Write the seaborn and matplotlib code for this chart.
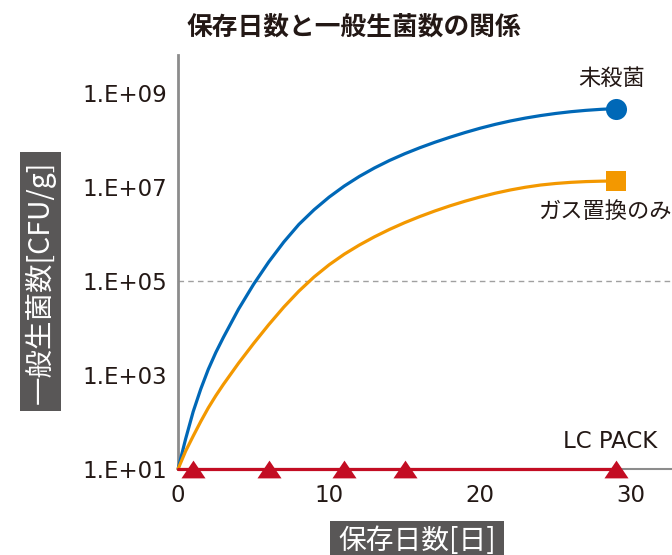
import numpy as np
import pandas as pd
import matplotlib
matplotlib.use("Agg")
import matplotlib.pyplot as plt
from matplotlib.patches import Rectangle
import seaborn as sns

# Storage days and general viable counts (log10 CFU/g)
days = [0, 0.5, 1, 1.5, 2, 2.5, 3, 4, 5, 6, 7, 8, 9, 10, 11, 12, 13, 14, 15,
        16, 17, 18, 19, 20, 21, 22, 23, 24, 25, 26, 27, 28, 29]
untreated_log = [1.00, 1.64, 2.22, 2.70, 3.12, 3.48, 3.80, 4.40, 4.93, 5.405,
                 5.83, 6.205, 6.515, 6.785, 7.02, 7.225, 7.405, 7.565, 7.707,
                 7.835, 7.952, 8.059, 8.159, 8.251, 8.333, 8.405, 8.467, 8.52,
                 8.565, 8.602, 8.631, 8.653, 8.669]
gas_only_log = [1.00, 1.38, 1.70, 2.01, 2.30, 2.56, 2.80, 3.25, 3.67, 4.07,
                4.445, 4.785, 5.085, 5.345, 5.57, 5.765, 5.94, 6.098, 6.241,
                6.371, 6.49, 6.599, 6.698, 6.788, 6.868, 6.937, 6.995, 7.042,
                7.075, 7.099, 7.115, 7.124, 7.129]
lc_days = [0, 1, 6, 11, 15, 29]
lc_log = [1.0, 1.0, 1.0, 1.0, 1.0, 1.0]

series_names = ["未殺菌", "ガス置換のみ", "LC PACK"]
colors = {"未殺菌": "#0068b7", "ガス置換のみ": "#f39800", "LC PACK": "#c30d23"}
ytick_exp = [1, 3, 5, 7, 9]
xticks = [0, 10, 20, 30]

sns.set_style("white")
plt.rcParams["font.family"] = ["Noto Sans CJK JP", "DejaVu Sans"]

df = pd.concat([
    pd.DataFrame({"day": days, "cfu": 10 ** np.array(untreated_log), "series": series_names[0]}),
    pd.DataFrame({"day": days, "cfu": 10 ** np.array(gas_only_log), "series": series_names[1]}),
    pd.DataFrame({"day": lc_days, "cfu": 10 ** np.array(lc_log), "series": series_names[2]}),
], ignore_index=True)

fig = plt.figure(figsize=(6.72, 5.55), dpi=100)
ax = fig.add_axes([0.265, 0.155, 0.735, 0.746])

ax.axhline(1e5, color="#a0a0a0", lw=1.0, ls=(0, (4, 3)), zorder=1)

sns.lineplot(data=df, x="day", y="cfu", hue="series", palette=colors,
             hue_order=series_names, linewidth=2.3, legend=False, ax=ax,
             clip_on=False, zorder=3)

text_color = "#231815"

# end markers
ax.scatter([days[-1]], [10 ** untreated_log[-1]], s=230, marker="o",
           color=colors["未殺菌"], zorder=5, clip_on=False, linewidths=0)
ax.scatter([days[-1]], [10 ** gas_only_log[-1]], s=190, marker="s",
           color=colors["ガス置換のみ"], zorder=5, clip_on=False, linewidths=0)
tri = [(-1.15, -0.85), (1.15, -0.85), (0.0, 0.85)]
ax.scatter(lc_days[1:], [10 ** v for v in lc_log[1:]], s=300, marker=tri,
           color=colors["LC PACK"], zorder=6, clip_on=False, linewidths=0)

ax.annotate("未殺菌", (days[-1], 10 ** untreated_log[-1]), xytext=(-4, 30),
            textcoords="offset pixels", ha="center", va="center",
            fontsize=16, color=text_color)
ax.annotate("ガス置換のみ", (days[-1], 10 ** gas_only_log[-1]), xytext=(-11, -31),
            textcoords="offset pixels", ha="center", va="center",
            fontsize=16, color=text_color)
ax.annotate("LC PACK", (lc_days[-1], 10 ** lc_log[-1]), xytext=(-53, 27),
            textcoords="offset pixels", ha="left", va="center",
            fontsize=16.5, family="DejaVu Sans", color=text_color,
            annotation_clip=False)

ax.set_yscale("log")
ax.set_ylim(10, 10 ** 9.81)
ax.set_xlim(0, 32.7)
ax.set_yticks([10.0 ** e for e in ytick_exp])
ax.set_yticklabels([f"1.E+{e:02d}" for e in ytick_exp])
ax.yaxis.set_minor_locator(matplotlib.ticker.NullLocator())
ax.set_xticks(xticks)
ax.set_xticklabels([str(t) for t in xticks])

ax.tick_params(axis="y", length=0, pad=8, labelsize=16.5, labelcolor=text_color)
ax.tick_params(axis="x", length=7, width=1.2, color="#8c8c8c", direction="out",
               pad=4, labelsize=16.5, labelcolor=text_color)
for lab in ax.get_xticklabels() + ax.get_yticklabels():
    lab.set_family("DejaVu Sans")

for side in ["top", "right"]:
    ax.spines[side].set_visible(False)
ax.spines["left"].set_color("#8c8c8c")
ax.spines["left"].set_linewidth(2)
ax.spines["bottom"].set_color("#8c8c8c")
ax.spines["bottom"].set_linewidth(1.5)
ax.set_xlabel("")
ax.set_ylabel("")

fig.text(0.527, 0.95, "保存日数と一般生菌数の関係", ha="center", va="center",
         fontsize=18.5, fontweight="bold", color=text_color)

# axis title boxes
W, H = 672, 555
fig.patches.append(Rectangle((20 / W, 1 - 411 / H), 41 / W, 259 / H,
                             transform=fig.transFigure, facecolor="#595757",
                             edgecolor="none", zorder=0))
fig.text(40.5 / W, 1 - 282 / H, "一般生菌数[CFU/g]", rotation=90, ha="center",
         va="center", fontsize=20.5, color="white")
fig.patches.append(Rectangle((330 / W, 0), 174 / W, 34 / H,
                             transform=fig.transFigure, facecolor="#595757",
                             edgecolor="none", zorder=0))
fig.text(417 / W, 0.026, "保存日数[日]", ha="center", va="center",
         fontsize=20, color="white")

fig.savefig("out.png", dpi=100)
